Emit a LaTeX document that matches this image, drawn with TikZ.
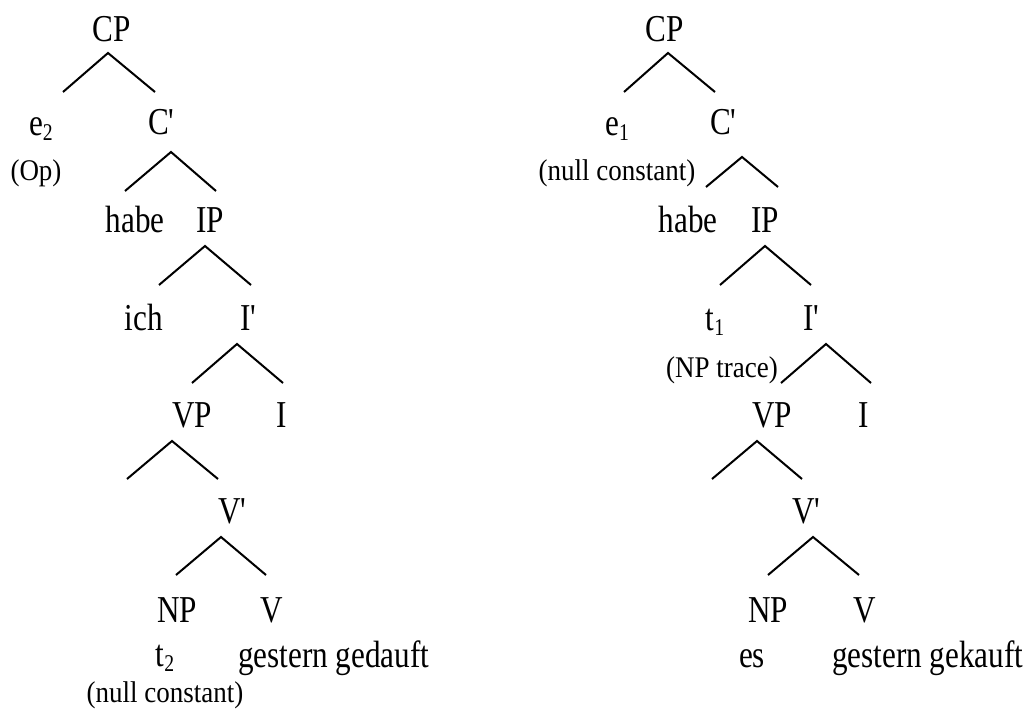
\documentclass[tikz,border=0pt]{standalone}
\usepackage{fontspec}
\setmainfont[FakeStretch=0.82]{Liberation Serif}
\newfontfamily\annofont[FakeStretch=0.9]{Liberation Serif}
\newcommand{\sbs}[1]{\raisebox{-5pt}{\fontsize{24}{24}\selectfont #1}}
\newcommand{\pr}{\textquotesingle}
\begin{document}
\begin{tikzpicture}[x=1pt,y=-1pt,
  lbl/.style={anchor=base,inner sep=0pt,font=\fontsize{38}{40}\selectfont},
  ann/.style={anchor=base,inner sep=0pt,font=\annofont\fontsize{30}{32}\selectfont},
  br/.style={line width=2pt,line join=miter}]
\useasboundingbox[fill=white] (0,0) rectangle (1030,711);
% left tree
\node[lbl] (cp1) at (112,42) {CP};
\node[lbl] (e2) at (41,136) {e\sbs{2}};
\node[ann] (op) at (36,181) {(Op)};
\node[lbl] (c1) at (162,135) {C\pr};
\node[lbl] (habe1) at (135,233) {habe};
\node[lbl] (ip1) at (210,233) {IP};
\node[lbl] (ich) at (144,330) {ich};
\node[lbl] (i1p) at (249,330) {I\pr};
\node[lbl] (vp1) at (192,427) {VP};
\node[lbl] (i1) at (282,427) {I};
\node[lbl] (v1p) at (233,523) {V\pr};
\node[lbl] (np1) at (177,622) {NP};
\node[lbl] (v1) at (272,622) {V};
\node[lbl] (t2) at (165,666) {t\sbs{2}};
\node[lbl,anchor=base west] (gg1) at (238,667) {gestern gedauft};
\node[ann] (nc1) at (165,702) {(null constant)};
% right tree
\node[lbl] (cp2) at (665,42) {CP};
\node[lbl] (e1) at (617,136) {e\sbs{1}};
\node[ann] (nc2) at (617,181) {(null constant)};
\node[lbl] (c2) at (724,135) {C\pr};
\node[lbl] (habe2) at (688,233) {habe};
\node[lbl] (ip2) at (765,233) {IP};
\node[lbl] (t1) at (715,330) {t\sbs{1}};
\node[lbl] (i2p) at (812,330) {I\pr};
\node[ann] (npt) at (722,377) {(NP trace)};
\node[lbl] (vp2) at (772,427) {VP};
\node[lbl] (i2) at (864,427) {I};
\node[lbl] (v2p) at (807,523) {V\pr};
\node[lbl] (np2) at (768,622) {NP};
\node[lbl] (v2) at (865,622) {V};
\node[lbl] (es) at (752,667) {es};
\node[lbl,anchor=base west] (gg2) at (832,667) {gestern gekauft};
% branches
\foreach \n/\ax/\ay/\lx/\ly/\rx/\ry in {
  Lcp/108/53/63/92/155/92,
  Lc/171/152/125/191/216/191,
  Lip/205/246/159/285/251/285,
  Li/237/344/192/383/283/383,
  Lvp/172/441/127/479/218/479,
  Lv/221/537/176/575/266/575,
  Rcp/668/53/624/92/715/92,
  Rc/742/157/706/187/778/187,
  Rip/765/246/720/285/811/285,
  Ri/826/344/781/383/871/383,
  Rvp/757/441/712/479/802/479,
  Rv/813/537/768/575/859/575}{
  \coordinate (\n-a) at (\ax,\ay);
  \coordinate (\n-l) at (\lx,\ly);
  \coordinate (\n-r) at (\rx,\ry);
  \draw[br] (\n-l) -- (\n-a) -- (\n-r);
}
\end{tikzpicture}
\end{document}
